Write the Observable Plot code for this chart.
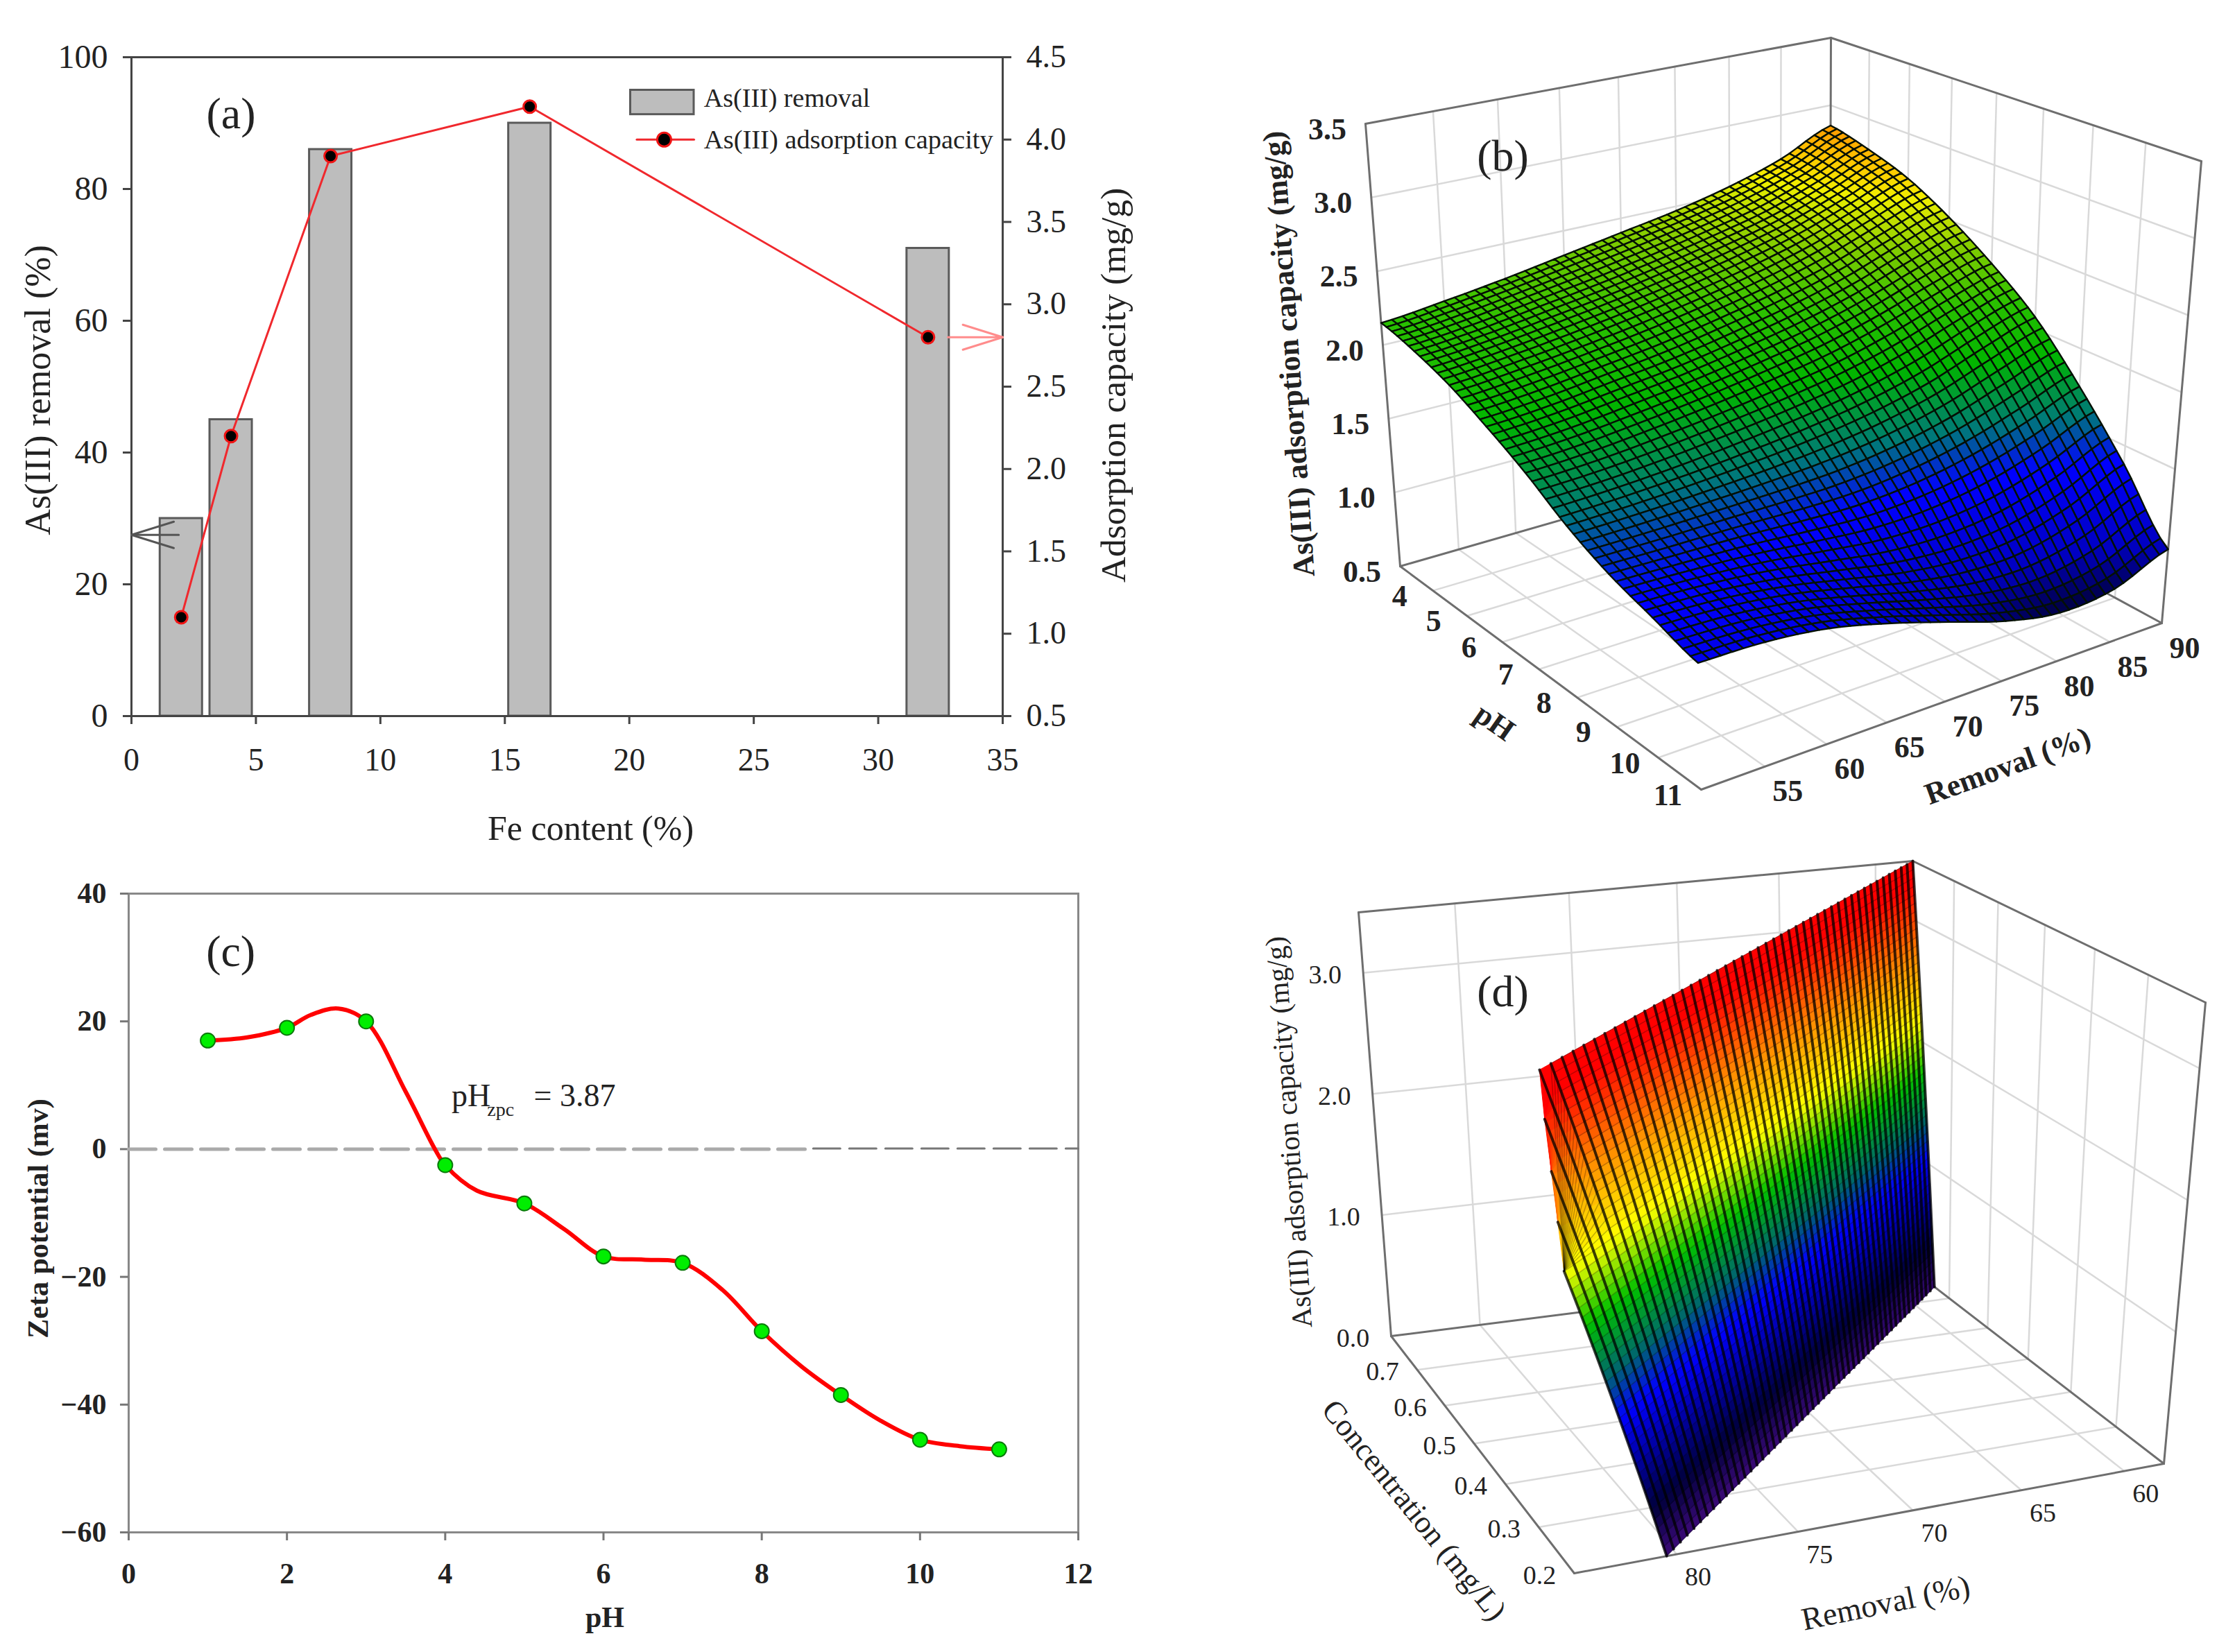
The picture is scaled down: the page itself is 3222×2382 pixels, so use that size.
<!DOCTYPE html>
<html><head><meta charset="utf-8">
<script src="https://cdn.jsdelivr.net/npm/d3@7"></script>
<script src="https://cdn.jsdelivr.net/npm/@observablehq/plot@0.6"></script>
<style>
html,body{margin:0;background:#fff}
#fig{position:relative;width:3222px;height:2382px;overflow:hidden;background:#fff}
#fig svg{position:absolute;background:transparent;overflow:visible}
</style></head><body><div id="fig"></div>
<script>
// ---------- data ----------
const feContent = [2, 4, 8, 16, 32];
const removalPct = [30, 45, 86, 90, 71];
const capacity = [1.1, 2.2, 3.9, 4.2, 2.8];
const zetaPH = [1, 2, 3, 4, 5, 6, 7, 8, 9, 10, 11];
const zetaMv = [17, 19, 20, -2.5, -8.5, -16.8, -17.8, -28.5, -38.5, -45.5, -47];
const zetaCurvePH = [1, 1.5, 2, 2.3, 2.65, 3, 3.5, 3.87, 4, 4.4, 5, 5.5, 6, 6.5, 7, 7.5, 8, 8.5, 9, 9.5, 10, 10.5, 11];
const zetaCurveMv = [17, 17.5, 19, 21, 22, 20, 9, 0, -2.5, -6.5, -8.5, -12.5, -16.8, -17.3, -17.8, -22, -28.5, -34, -38.5, -42.5, -45.5, -46.5, -47];
// panel (b): capacity at pH (rows) and removal (columns)
const bPH = [3, 4, 5, 6, 7, 8, 9, 10, 11];
const bRemoval = [50, 55, 60, 65, 70, 75, 80, 85, 90];
const bCapacity = [
  [2.15, 2.20, 2.26, 2.33, 2.40, 2.47, 2.56, 2.68, 2.85],
  [2.10, 2.14, 2.20, 2.26, 2.33, 2.41, 2.50, 2.63, 2.78],
  [2.02, 2.06, 2.11, 2.17, 2.24, 2.32, 2.42, 2.55, 2.68],
  [1.90, 1.93, 1.98, 2.03, 2.10, 2.18, 2.28, 2.41, 2.52],
  [1.76, 1.78, 1.82, 1.87, 1.93, 2.00, 2.10, 2.22, 2.32],
  [1.59, 1.60, 1.62, 1.65, 1.69, 1.75, 1.84, 1.97, 2.08],
  [1.46, 1.45, 1.44, 1.42, 1.41, 1.44, 1.51, 1.62, 1.75],
  [1.37, 1.35, 1.30, 1.22, 1.14, 1.10, 1.12, 1.22, 1.38],
  [1.28, 1.27, 1.22, 1.12, 1.00, 0.88, 0.81, 0.84, 0.98]
];
const bPHTicks = [4, 5, 6, 7, 8, 9, 10, 11];
const bRemovalTicks = [55, 60, 65, 70, 75, 80, 85, 90];
const bZTicks = [0.5, 1, 1.5, 2, 2.5, 3, 3.5];
const bColorStops = [0.8, 1.0, 1.4, 1.62, 1.9, 2.15, 2.39, 2.6, 2.72, 2.85];
const bColors = ["#00003c", "#0000c0", "#0000ff", "#007a78", "#00b400", "#28c000", "#80cc00", "#f0f000", "#ffc800", "#ff9a00"];
// panel (d): edges of the sheet at the floor and at the top of the box
const dSheetZ = [0, 3.5];
const dLeftConc = [0.2, 0.22];
const dLeftRemoval = [80.4, 86.2];
const dRightConc = [0.74, 0.8];
const dRightRemoval = [58, 58];
const dConcTicks = [0.2, 0.3, 0.4, 0.5, 0.6, 0.7];
const dRemovalTicks = [60, 65, 70, 75, 80];
const dZTicks = [0, 1, 2, 3];
const dColorStops = [0, 0.35, 1.05, 1.35, 1.75, 2.17, 2.7, 3.3];
const dColors = ["#3c0a78", "#00003c", "#0000ff", "#00666e", "#00c000", "#ffff00", "#ff9000", "#ff0000"];

// ---------- shared ----------
const serif = "Liberation Serif";
const fig = document.getElementById("fig");
const ink = "#222";
function place(svg, left, top) { svg.style.left = left + "px"; svg.style.top = top + "px"; fig.appendChild(svg); }
function fmt1(d) { return d.toFixed(1); }
function fmtNum(d) { return String(d).replace("-", "\u2212"); }

// ---------- panel (a) ----------
const aW = 1611, aH = 1200, aMargins = {marginLeft: 189, marginRight: 166, marginTop: 82, marginBottom: 168};
const aBars = feContent.map((x, i) => ({x1: x - 0.85, x2: x + 0.85, y: removalPct[i]}));
const aLine = feContent.map((x, i) => ({x, y: capacity[i]}));
const aLeft = Plot.plot({
  width: aW, height: aH, ...aMargins, style: {fontFamily: serif, background: "transparent"},
  x: {domain: [0, 35]}, y: {domain: [0, 100]},
  marks: [
    Plot.rectY(aBars, {x1: "x1", x2: "x2", y: "y", fill: "#bdbdbd", stroke: "#5a5a5a", strokeWidth: 3}),
    Plot.frame({stroke: "#444", strokeWidth: 3}),
    Plot.axisY({ticks: d3.range(0, 101, 20), tickSize: 12, tickPadding: 22, fontSize: 48, label: null, stroke: "#444", fill: ink, strokeWidth: 3}),
    Plot.axisX({ticks: d3.range(0, 36, 5), tickSize: 12, tickPadding: 34, fontSize: 46, label: null, stroke: "#444", fill: ink, strokeWidth: 3}),
    Plot.line([[1.9, 27.5], [0, 27.5], [1.7, 29.5]], {x: "0", y: "1", stroke: "#555", strokeWidth: 3}),
    Plot.line([[0, 27.5], [1.7, 25.5]], {x: "0", y: "1", stroke: "#555", strokeWidth: 3}),
    Plot.rect([0], {x1: () => 20.05, x2: () => 22.6, y1: () => 91.3, y2: () => 95, fill: "#bdbdbd", stroke: "#5a5a5a", strokeWidth: 3}),
    Plot.text(["As(III) removal"], {x: () => 23, y: () => 93.8, text: d => d, fontSize: 38, textAnchor: "start", fill: ink}),
    Plot.text(["(a)"], {x: () => 4, y: () => 91.4, text: d => d, fontSize: 64, fill: ink}),
    Plot.text(["As(III) removal (%)"], {frameAnchor: "middle", dx: -762, dy: 5, text: d => d, rotate: -90, fontSize: 52, fill: ink}),
    Plot.text(["Fe content (%)"], {frameAnchor: "middle", dx: 34, dy: 637, text: d => d, fontSize: 50, fill: ink})
  ]
});
place(aLeft, 0, 0);
const aRight = Plot.plot({
  width: aW, height: aH, ...aMargins, style: {fontFamily: serif, background: "transparent"},
  x: {domain: [0, 35], axis: null}, y: {domain: [0.5, 4.5]},
  marks: [
    Plot.axisY({anchor: "right", ticks: d3.range(0.5, 4.6, 0.5), tickFormat: fmt1, tickSize: 12, tickPadding: 22, fontSize: 46, label: null, stroke: "#444", fill: ink, strokeWidth: 3}),
    Plot.line(aLine, {x: "x", y: "y", stroke: "#f0282d", strokeWidth: 3}),
    Plot.dot(aLine, {x: "x", y: "y", r: 9, fill: "#000", stroke: "#f01414", strokeWidth: 3}),
    Plot.line([[32.8, 2.8], [35, 2.8], [33.4, 2.876]], {x: "0", y: "1", stroke: "#ff8c8c", strokeWidth: 3}),
    Plot.line([[35, 2.8], [33.4, 2.724]], {x: "0", y: "1", stroke: "#ff8c8c", strokeWidth: 3}),
    Plot.line([[20.3, 4.0], [22.6, 4.0]], {x: "0", y: "1", stroke: "#f0282d", strokeWidth: 3}),
    Plot.dot([[21.4, 4.0]], {x: "0", y: "1", r: 10, fill: "#000", stroke: "#f01414", strokeWidth: 3}),
    Plot.text(["As(III) adsorption capacity"], {x: () => 23, y: () => 4.0, text: d => d, fontSize: 38.5, textAnchor: "start", fill: ink}),
    Plot.text(["Adsorption capacity (mg/g)"], {frameAnchor: "middle", dx: 788, dy: -2, text: d => d, rotate: -90, fontSize: 51.5, fill: ink})
  ]
});
place(aRight, 0, 0);

// ---------- panel (c) ----------
const cPoints = zetaPH.map((x, i) => ({x, y: zetaMv[i]}));
const cCurve = zetaCurvePH.map((x, i) => ({x, y: zetaCurveMv[i]}));
const cPlot = Plot.plot({
  width: 1611, height: 1142, marginLeft: 185, marginRight: 57, marginTop: 48, marginBottom: 173,
  style: {fontFamily: serif, background: "transparent"},
  x: {domain: [0, 12]}, y: {domain: [-60, 40]},
  marks: [
    Plot.frame({stroke: "#888", strokeWidth: 3}),
    Plot.axisY({ticks: d3.range(-60, 41, 20), tickFormat: fmtNum, tickSize: 12, tickPadding: 20, fontSize: 42, fontWeight: "bold", label: null, stroke: "#777", fill: ink, strokeWidth: 3}),
    Plot.axisX({ticks: d3.range(0, 13, 2), tickSize: 12, tickPadding: 32, fontSize: 42, fontWeight: "bold", label: null, stroke: "#777", fill: ink, strokeWidth: 3}),
    Plot.line([[0, 0], [8.6, 0]], {x: "0", y: "1", stroke: "#aaa", strokeWidth: 5, strokeDasharray: "39 13"}),
    Plot.line([[8.65, 0.1], [12, 0.1]], {x: "0", y: "1", stroke: "#777", strokeWidth: 3, strokeDasharray: "39 13"}),
    Plot.line(cCurve, {x: "x", y: "y", curve: "catmull-rom", stroke: "#f00", strokeWidth: 6}),
    Plot.dot(cPoints, {x: "x", y: "y", r: 10.5, fill: "#00ee00", stroke: "#0a7a0a", strokeWidth: 2}),
    Plot.text(["(c)"], {x: () => 1.29, y: () => 30.9, text: d => d, fontSize: 64, fill: ink}),
    Plot.text(["pH"], {x: () => 4.08, y: () => 8.3, text: d => d, fontSize: 46, textAnchor: "start", fill: ink}),
    Plot.text(["zpc"], {x: () => 4.53, y: () => 6.2, text: d => d, fontSize: 28, textAnchor: "start", fill: ink}),
    Plot.text(["= 3.87"], {x: () => 5.12, y: () => 8.3, text: d => d, fontSize: 46, textAnchor: "start", fill: ink}),
    Plot.text(["Zeta potential (mv)"], {frameAnchor: "middle", dx: -814.5, dy: 8, text: d => d, rotate: -90, fontSize: 42, fontWeight: "bold", fill: ink}),
    Plot.text(["pH"], {frameAnchor: "middle", dx: 2, dy: 583.5, text: d => d, fontSize: 42, fontWeight: "bold", fill: ink})
  ]
});
place(cPlot, 0, 1240);

// ---------- 3-D box projection ----------
function squareToQuad(p) {
  const [x0, y0] = p[0], [x1, y1] = p[1], [x2, y2] = p[2], [x3, y3] = p[3];
  const dx1 = x1 - x2, dx2 = x3 - x2, sx = x0 - x1 + x2 - x3;
  const dy1 = y1 - y2, dy2 = y3 - y2, sy = y0 - y1 + y2 - y3;
  const det = dx1 * dy2 - dx2 * dy1;
  const g = (sx * dy2 - dx2 * sy) / det, h = (dx1 * sy - sx * dy1) / det;
  const a = x1 - x0 + g * x1, b = x3 - x0 + h * x3, d = y1 - y0 + g * y1, e = y3 - y0 + h * y3;
  return (u, v) => { const q = g * u + h * v + 1; return [(a * u + b * v + x0) / q, (d * u + e * v + y0) / q]; };
}
function makeBox(floor, top) {
  const f = squareToQuad(floor), t = squareToQuad(top);
  return (u, v, w) => { const a = f(u, v), b = t(u, v); return [a[0] + (b[0] - a[0]) * w, a[1] + (b[1] - a[1]) * w]; };
}
function seg(list, id, a, b) { list.push({id, x: a[0], y: a[1]}, {id, x: b[0], y: b[1]}); }
function catmull(p, t) {
  const n = p.length - 1, s = Math.min(n - 1e-9, Math.max(0, t * n)), i = Math.floor(s), f = s - i;
  const p0 = p[Math.max(0, i - 1)], p1 = p[i], p2 = p[i + 1], p3 = p[Math.min(n, i + 2)];
  return 0.5 * (2 * p1 + (p2 - p0) * f + (2 * p0 - 5 * p1 + 4 * p2 - p3) * f * f + (3 * p1 - p0 - 3 * p2 + p3) * f * f * f);
}
function boxLines(P, uTicks, vTicks, wTicks) {
  const grid = [], edge = [];
  let id = 0;
  for (const w of wTicks) { seg(grid, id++, P(0, 0, w), P(0, 1, w)); seg(grid, id++, P(0, 1, w), P(1, 1, w)); }
  for (const v of vTicks) { seg(grid, id++, P(0, v, 0), P(0, v, 1)); seg(grid, id++, P(0, v, 0), P(1, v, 0)); }
  for (const u of uTicks) { seg(grid, id++, P(u, 1, 0), P(u, 1, 1)); seg(grid, id++, P(u, 0, 0), P(u, 1, 0)); }
  const c = [[0,0,0,0,0,1],[0,0,1,0,1,1],[0,1,1,0,1,0],[0,1,1,1,1,1],[1,1,1,1,1,0],[0,0,0,1,0,0],[1,0,0,1,1,0],[0,0,0,0,1,0],[0,1,0,1,1,0]];
  for (const e of c) seg(edge, id++, P(e[0], e[1], e[2]), P(e[3], e[4], e[5]));
  return {grid, edge};
}

// ---------- panel (b) ----------
const bCorners = {floor: [[2018, 816], [2452, 1138], [3116, 898], [2637, 638]], top: [[1968, 178], [2435, 436], [3173, 232], [2639, 54]]};
const bP = makeBox(bCorners.floor, bCorners.top);
const bU = d3.scaleLinear([3, 11], [0, 1]), bV = d3.scaleLinear([50, 90], [0, 1]), bW = d3.scaleLinear([0.5, 3.5], [0, 1]);
const bProject = (ph, rem, z) => bP(bU(ph), bV(rem), bW(z));
const bCells = 48;
function bHeight(s, t) {
  const col = bCapacity.map(row => catmull(row, t));
  return catmull(col, s);
}
const bMesh = [];
{
  const cells = [];
  for (let i = 0; i < bCells; i++) for (let j = 0; j < bCells; j++) cells.push([i, j]);
  cells.sort((a, b) => (a[0] - a[1]) - (b[0] - b[1]));
  cells.forEach(([i, j], k) => {
    const s = i / bCells, t = j / bCells, ds = 1 / bCells;
    const c = bHeight(s + ds / 2, t + ds / 2);
    for (const [a, b] of [[0, 0], [1, 0], [1, 1], [0, 1], [0, 0]]) {
      const S = s + a * ds, T = t + b * ds;
      const [x, y] = bP(S, T, bW(bHeight(S, T)));
      bMesh.push({cell: k, x, y, c});
    }
  });
}
const bBox = boxLines(bP, bPHTicks.slice(0, -1).map(bU), bRemovalTicks.slice(0, -1).map(bV), bZTicks.slice(1, -1).map(bW));
const bZLab = bZTicks.map(z => { const p = bProject(3, 50, z); return {x: p[0] - 55, y: p[1] + 8, t: fmt1(z)}; });
const bPHLab = bPHTicks.map(v => { const p = bProject(v, 50, 0.5); return {x: p[0] - 48, y: p[1] + 8, t: String(v)}; });
const bRemLab = bRemovalTicks.map(v => { const p = bProject(11, v, 0.5); return {x: p[0] + 33, y: p[1] + 36, t: String(v)}; });
const bPlot = Plot.plot({
  width: 1602, height: 1210, margin: 0, style: {fontFamily: serif, background: "transparent"},
  x: {domain: [1620, 3222], range: [0, 1602], axis: null}, y: {domain: [0, 1210], range: [0, 1210], axis: null},
  color: {type: "linear", domain: bColorStops, range: bColors},
  marks: [
    Plot.line(bBox.grid, {x: "x", y: "y", z: "id", stroke: "#d9d9d9", strokeWidth: 2.5}),
    Plot.line(bBox.edge, {x: "x", y: "y", z: "id", stroke: "#6e6e6e", strokeWidth: 3}),
    Plot.line(bMesh, {x: "x", y: "y", z: "cell", fill: "c", stroke: "#041004", strokeWidth: 2.4}),
    Plot.text(bZLab, {x: "x", y: "y", text: "t", fontSize: 44, fontWeight: "bold", fill: ink}),
    Plot.text(bPHLab, {x: "x", y: "y", text: "t", fontSize: 44, fontWeight: "bold", fill: ink}),
    Plot.text(bRemLab, {x: "x", y: "y", text: "t", fontSize: 44, fontWeight: "bold", fill: ink}),
    Plot.text(["(b)"], {x: () => 2166, y: () => 225, text: d => d, fontSize: 64, fill: ink}),
    Plot.text(["As(III) adsorption capacity (mg/g)"], {x: () => 1858, y: () => 510, text: d => d, rotate: -94, fontSize: 44, fontWeight: "bold", fill: ink}),
    Plot.text(["pH"], {x: () => 2154, y: () => 1041, text: d => d, rotate: 35, fontSize: 44, fontWeight: "bold", fill: ink}),
    Plot.text(["Removal (%)"], {x: () => 2894, y: () => 1104, text: d => d, rotate: -20, fontSize: 44, fontWeight: "bold", fill: ink})
  ]
});
place(bPlot, 1620, 0);

// ---------- panel (d) ----------
const dCorners = {floor: [[2005, 1926], [2269, 2268], [3119, 2110], [2757, 1831]], top: [[1958, 1315], [2257, 1578], [3179, 1445], [2757, 1241]]};
const dP = makeBox(dCorners.floor, dCorners.top);
const dU = d3.scaleLinear([0.8, 0.2], [0, 1]), dV = d3.scaleLinear([84, 58], [0, 1]), dW = d3.scaleLinear([0, 3.5], [0, 1]);
const dProject = (c, rem, z) => dP(dU(c), dV(rem), dW(z));
const dLC = d3.scaleLinear(dSheetZ, dLeftConc), dLR = d3.scaleLinear(dSheetZ, dLeftRemoval);
const dRC = d3.scaleLinear(dSheetZ, dRightConc), dRR = d3.scaleLinear(dSheetZ, dRightRemoval);
const dCols = 50, dRows = 50, dMesh = [], dColLines = [], dRowLines = [];
// a column of the sheet ends where it meets the removal = 84 wall of the box
const dRemovalAt = (z, s) => dLR(z) + (dRR(z) - dLR(z)) * s;
function dLimit(s) {
  const r0 = dRemovalAt(0, s), r1 = dRemovalAt(3.5, s);
  return r1 <= 84 ? 3.5 : 3.5 * (84 - r0) / (r1 - r0);
}
function dAt(z, s) {
  const zz = Math.min(z, dLimit(s));
  return dProject(dLC(zz) + (dRC(zz) - dLC(zz)) * s, dRemovalAt(zz, s), zz);
}
for (let i = 0; i < dRows; i++) for (let j = 0; j < dCols; j++) {
  const zLow = 3.5 * i / dRows, zMid = 3.5 * (i + 0.5) / dRows;
  if (zLow >= dLimit((j + 1) / dCols)) continue;
  for (const [a, b] of [[0, 0], [1, 0], [1, 1], [0, 1], [0, 0]]) {
    const [x, y] = dAt(3.5 * (i + a) / dRows, (j + b) / dCols);
    dMesh.push({cell: i * dCols + j, x, y, c: zMid});
  }
}
for (let j = 0; j <= dCols; j++) for (let i = 0; i <= dRows; i++) { const [x, y] = dAt(3.5 * i / dRows, j / dCols); dColLines.push({id: j, x, y}); }
for (let i = 0; i <= dRows; i++) for (let j = 0; j <= dCols; j += 5) { const [x, y] = dAt(3.5 * i / dRows, j / dCols); dRowLines.push({id: i, x, y}); }
const dBox = boxLines(dP, [0.7, 0.6, 0.5, 0.4, 0.3].map(dU), dRemovalTicks.map(dV), dZTicks.slice(1).map(dW));
const dZLab = dZTicks.map(z => { const p = dProject(0.8, 84, z); return {x: p[0] - 55, y: p[1] + 3, t: fmt1(z)}; });
const dCLab = dConcTicks.map(v => { const p = dProject(v, 84, 0); return {x: p[0] - 50, y: p[1] + 3, t: fmt1(v)}; });
const dRemLab = dRemovalTicks.map(v => { const p = dProject(0.2, v, 0); return {x: p[0] + 31, y: p[1] + 33, t: String(v)}; });
const dPlot = Plot.plot({
  width: 1602, height: 1172, margin: 0, style: {fontFamily: serif, background: "transparent"},
  x: {domain: [1620, 3222], range: [0, 1602], axis: null}, y: {domain: [1210, 2382], range: [0, 1172], axis: null},
  color: {type: "linear", domain: dColorStops, range: dColors},
  marks: [
    Plot.line(dBox.grid, {x: "x", y: "y", z: "id", stroke: "#d9d9d9", strokeWidth: 2.5}),
    Plot.line(dBox.edge, {x: "x", y: "y", z: "id", stroke: "#6e6e6e", strokeWidth: 3}),
    Plot.line(dMesh, {x: "x", y: "y", z: "cell", fill: "c", stroke: "c", strokeWidth: 1}),
    Plot.line(dColLines, {x: "x", y: "y", z: "id", stroke: "#000", strokeWidth: 4, strokeOpacity: 0.75}),
    Plot.line(dRowLines, {x: "x", y: "y", z: "id", stroke: "#000", strokeWidth: 1.5, strokeOpacity: 0.25}),
    Plot.text(dZLab, {x: "x", y: "y", text: "t", fontSize: 38, fill: ink}),
    Plot.text(dCLab, {x: "x", y: "y", text: "t", fontSize: 38, fill: ink}),
    Plot.text(dRemLab, {x: "x", y: "y", text: "t", fontSize: 38, fill: ink}),
    Plot.text(["(d)"], {x: () => 2166, y: () => 1430, text: d => d, fontSize: 64, fill: ink}),
    Plot.text(["As(III) adsorption capacity (mg/g)"], {x: () => 1858, y: () => 1632, text: d => d, rotate: -94, fontSize: 41, fill: ink}),
    Plot.text(["Concentration (mg/L)"], {x: () => 2038, y: () => 2177, text: d => d, rotate: 51, fontSize: 45, fill: ink}),
    Plot.text(["Removal (%)"], {x: () => 2718, y: () => 2311, text: d => d, rotate: -11.6, fontSize: 46, fill: ink})
  ]
});
place(dPlot, 1620, 1210);
</script></body></html>
